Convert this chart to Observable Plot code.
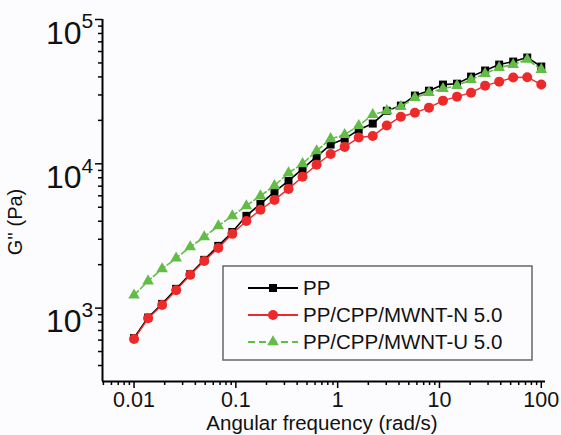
<!DOCTYPE html>
<html><head><meta charset="utf-8">
<script src="https://cdn.jsdelivr.net/npm/d3@7"></script>
<script src="https://cdn.jsdelivr.net/npm/@observablehq/plot@0.6"></script>
<style>
body{margin:0;background:#fcfcfe;}
#chart{width:561px;height:435px;}
</style>
</head><body><div id="chart"></div>
<script>
// Angular frequency (rad/s)
const freq = [0.01, 0.01374, 0.01888, 0.02593, 0.03562, 0.04894, 0.06723, 0.09237, 0.1269, 0.1743,
  0.2395, 0.3290, 0.4520, 0.6210, 0.8532, 1.172, 1.610, 2.212, 3.039, 4.175,
  5.736, 7.880, 10.83, 14.87, 20.43, 28.07, 38.57, 52.98, 72.79, 100];
// G'' (Pa)
const ppValues = [620, 860, 1070, 1360, 1720, 2160, 2700, 3370, 4360, 5280,
  6390, 7620, 9230, 11200, 13600, 14900, 17200, 19000, 23300, 25300,
  29700, 32100, 35400, 35900, 40200, 44300, 48700, 51100, 54500, 47200];
const nValues = [610, 850, 1050, 1330, 1700, 2120, 2610, 3270, 4020, 4800,
  5620, 6700, 8130, 9840, 11700, 13100, 15200, 15600, 18400, 21200,
  22600, 24500, 27400, 29200, 31100, 34800, 37100, 39600, 39800, 35400];
const uValues = [1230, 1540, 1870, 2220, 2650, 3110, 3710, 4360, 5110, 6000,
  7040, 8660, 10000, 12300, 14900, 15900, 18400, 21900, 23300, 24900,
  28700, 31100, 33200, 34800, 38300, 42200, 46400, 48700, 52800, 45000];

const seriesNames = ["PP", "PP/CPP/MWNT-N 5.0", "PP/CPP/MWNT-U 5.0"];
const seriesColors = ["#000000", "#ec2a2a", "#62bc46"];
const seriesSymbols = ["square", "circle", "triangle"];

const xMajorTicks = [0.01, 0.1, 1, 10, 100];
const xTickLabels = ["0.01", "0.1", "1", "10", "100"];
const xMinorTicks = [0.005, 0.006, 0.007, 0.008, 0.009,
  0.02, 0.03, 0.04, 0.05, 0.06, 0.07, 0.08, 0.09,
  0.2, 0.3, 0.4, 0.5, 0.6, 0.7, 0.8, 0.9,
  2, 3, 4, 5, 6, 7, 8, 9,
  20, 30, 40, 50, 60, 70, 80, 90];
const yMajorTicks = [1000, 10000, 100000];
const yTickExponents = ["3", "4", "5"];
const yMinorTicks = [400, 500, 600, 700, 800, 900,
  2000, 3000, 4000, 5000, 6000, 7000, 8000, 9000,
  20000, 30000, 40000, 50000, 60000, 70000, 80000, 90000];
const xDomain = [0.0049, 110];
const yDomain = [310, 100000];

const rows = (vals) => freq.map((w, i) => ({w, v: vals[i]}));
const ppRows = rows(ppValues), nRows = rows(nValues), uRows = rows(uValues);

const font = "'Liberation Sans', Arial, sans-serif";

const chart = Plot.plot({
  width: 561,
  height: 435,
  marginLeft: 102,
  marginRight: 16,
  marginTop: 19,
  marginBottom: 54,
  style: {fontFamily: font, background: "transparent", color: "#000"},
  x: {type: "log", domain: xDomain},
  y: {type: "log", domain: yDomain},
  marks: [
    Plot.axisX(xMinorTicks, {tickSize: 4, tickFormat: () => "", strokeWidth: 1.5, label: null}),
    Plot.axisX(xMajorTicks, {tickSize: 7, tickFormat: () => "", strokeWidth: 1.5, label: null}),
    Plot.axisY(yMinorTicks, {tickSize: 4, tickFormat: () => "", strokeWidth: 1.5, label: null}),
    Plot.axisY(yMajorTicks, {tickSize: 7, tickFormat: () => "", strokeWidth: 1.5, label: null}),
    Plot.ruleY([yDomain[0]], {stroke: "#000", strokeWidth: 2}),
    Plot.ruleX([xDomain[0]], {stroke: "#000", strokeWidth: 2}),
    Plot.text(xMajorTicks, {x: d => d, y: () => yDomain[0], text: (d, i) => xTickLabels[i], dy: 19, fontSize: 21.5, fill: "#111"}),
    Plot.text(yMajorTicks, {frameAnchor: "left", y: d => d, text: () => "10", textAnchor: "end", dx: -21, dy: 14, fontSize: 32, fill: "#111"}),
    Plot.text(yMajorTicks, {frameAnchor: "left", y: d => d, text: (d, i) => yTickExponents[i], textAnchor: "start", dx: -21, dy: 2, fontSize: 21, fill: "#111"}),
    // PP
    Plot.line(ppRows, {x: "w", y: "v", stroke: seriesColors[0], strokeWidth: 1.6}),
    Plot.dot(ppRows, {x: "w", y: "v", symbol: "square", r: 4.5, fill: seriesColors[0], stroke: "none"}),
    // N
    Plot.line(nRows, {x: "w", y: "v", stroke: seriesColors[1], strokeWidth: 1.4}),
    Plot.dot(nRows, {x: "w", y: "v", symbol: "circle", r: 5, fill: seriesColors[1], stroke: "none"}),
    // U
    Plot.line(uRows, {x: "w", y: "v", stroke: seriesColors[2], strokeWidth: 1.6, strokeDasharray: "6,3"}),
    Plot.dot(uRows, {x: "w", y: "v", symbol: "triangle", r: 4.3, fill: seriesColors[2], stroke: "none"})
  ]
});

document.getElementById("chart").appendChild(chart);

const svg = d3.select(chart);
// axis titles
svg.append("text")
  .attr("transform", "translate(22,222) rotate(-90)")
  .attr("text-anchor", "middle")
  .attr("font-family", font).attr("font-size", 20).attr("fill", "#111")
  .text("G'' (Pa)");
svg.append("text")
  .attr("x", 322).attr("y", 430)
  .attr("text-anchor", "middle")
  .attr("font-family", font).attr("font-size", 20.5).attr("fill", "#111")
  .text("Angular frequency (rad/s)");

// legend
const lg = svg.append("g").attr("text-anchor", "start");
lg.append("rect").attr("x", 223).attr("y", 266).attr("width", 309).attr("height", 94)
  .attr("fill", "#fcfcfe").attr("stroke", "#666").attr("stroke-width", 1.5);
const rowY = [288, 315, 342];
const symMap = {square: d3.symbolSquare, circle: d3.symbolCircle, triangle: d3.symbolTriangle};
const symSize = [64, 78, 58];
seriesNames.forEach((name, i) => {
  const y = rowY[i];
  lg.append("line").attr("x1", 248).attr("x2", 298).attr("y1", y).attr("y2", y)
    .attr("stroke", seriesColors[i]).attr("stroke-width", 2)
    .attr("stroke-dasharray", i === 2 ? "7,4" : null);
  lg.append("path").attr("d", d3.symbol(symMap[seriesSymbols[i]], symSize[i])())
    .attr("transform", `translate(273,${y})`).attr("fill", seriesColors[i]);
  lg.append("text").attr("x", 303).attr("y", y).attr("dy", "0.35em")
    .attr("text-anchor", "start")
    .attr("font-family", font).attr("font-size", 20.5).attr("fill", "#111")
    .text(name);
});
</script>
</body></html>
